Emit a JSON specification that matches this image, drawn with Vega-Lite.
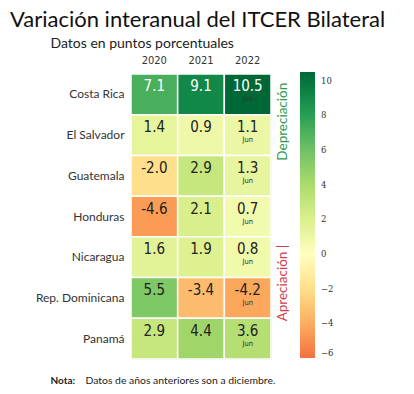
{
  "$schema": "https://vega.github.io/schema/vega-lite/v6.json",
  "width": 140,
  "height": 285,
  "autosize": "none",
  "padding": {"left": 131, "top": 74, "right": 143, "bottom": 35},
  "background": "white",
  "title": {
    "text": "Variación interanual del ITCER Bilateral",
    "anchor": "start",
    "frame": "group",
    "dx": -121,
    "font": "Lato",
    "fontSize": 22,
    "fontWeight": "normal",
    "color": "#111111"
  },
  "datasets": {
    "cells": [
      {"country": "Costa Rica", "year": "2020", "value": 7.1, "label": "7.1", "note": ""},
      {"country": "Costa Rica", "year": "2021", "value": 9.1, "label": "9.1", "note": ""},
      {"country": "Costa Rica", "year": "2022", "value": 10.5, "label": "10.5", "note": "Jun"},
      {"country": "El Salvador", "year": "2020", "value": 1.4, "label": "1.4", "note": ""},
      {"country": "El Salvador", "year": "2021", "value": 0.9, "label": "0.9", "note": ""},
      {"country": "El Salvador", "year": "2022", "value": 1.1, "label": "1.1", "note": "Jun"},
      {"country": "Guatemala", "year": "2020", "value": -2.0, "label": "-2.0", "note": ""},
      {"country": "Guatemala", "year": "2021", "value": 2.9, "label": "2.9", "note": ""},
      {"country": "Guatemala", "year": "2022", "value": 1.3, "label": "1.3", "note": "Jun"},
      {"country": "Honduras", "year": "2020", "value": -4.6, "label": "-4.6", "note": ""},
      {"country": "Honduras", "year": "2021", "value": 2.1, "label": "2.1", "note": ""},
      {"country": "Honduras", "year": "2022", "value": 0.7, "label": "0.7", "note": "Jun"},
      {"country": "Nicaragua", "year": "2020", "value": 1.6, "label": "1.6", "note": ""},
      {"country": "Nicaragua", "year": "2021", "value": 1.9, "label": "1.9", "note": ""},
      {"country": "Nicaragua", "year": "2022", "value": 0.8, "label": "0.8", "note": "Jun"},
      {"country": "Rep. Dominicana", "year": "2020", "value": 5.5, "label": "5.5", "note": ""},
      {"country": "Rep. Dominicana", "year": "2021", "value": -3.4, "label": "-3.4", "note": ""},
      {"country": "Rep. Dominicana", "year": "2022", "value": -4.2, "label": "-4.2", "note": "Jun"},
      {"country": "Panamá", "year": "2020", "value": 2.9, "label": "2.9", "note": ""},
      {"country": "Panamá", "year": "2021", "value": 4.4, "label": "4.4", "note": ""},
      {"country": "Panamá", "year": "2022", "value": 3.6, "label": "3.6", "note": "Jun"}
    ],
    "notes": [
      {"country": "El Salvador", "year": "2022", "label": "Depreciación", "kind": "dep"},
      {"country": "Rep. Dominicana", "year": "2022", "label": "Apreciación |", "kind": "apr"}
    ]
  },
  "resolve": {"axis": {"x": "independent"}},
  "layer": [
    {
      "data": {"name": "cells"},
      "mark": {"type": "rect", "stroke": "white", "strokeWidth": 1.5},
      "encoding": {
        "x": {
          "field": "year", "type": "ordinal", "sort": ["2020", "2021", "2022"],
          "axis": {
            "orient": "top",
            "title": "Datos en puntos porcentuales",
            "titleX": -81, "titleY": -27,
            "titleAlign": "left", "titleBaseline": "alphabetic", "titleAngle": 0,
            "titleFont": "Lato", "titleFontSize": 14, "titleFontWeight": "normal", "titleColor": "#222222",
            "labelAngle": 0, "labelFont": "DejaVu Sans Condensed, Roboto", "labelFontSize": 11, "labelColor": "#333333",
            "labelPadding": 9, "ticks": false, "domain": false
          }
        },
        "y": {
          "field": "country", "type": "nominal",
          "sort": ["Costa Rica", "El Salvador", "Guatemala", "Honduras", "Nicaragua", "Rep. Dominicana", "Panamá"],
          "axis": {
            "title": "Nota:",
            "titleAngle": 0, "titleX": -81, "titleY": 309,
            "titleAlign": "left", "titleBaseline": "alphabetic",
            "titleFont": "Lato", "titleFontSize": 10, "titleFontWeight": "bold", "titleColor": "#222222",
            "labelFont": "Lato", "labelFontSize": 12, "labelColor": "#333333",
            "labelPadding": 7, "ticks": false, "domain": false
          }
        },
        "color": {
          "field": "value", "type": "quantitative",
          "scale": {
            "domain": [-6, -4.2, -2.1, 0, 2.1, 4.2, 6.3, 8.4, 10.5],
            "range": ["#f2703f", "#fca85c", "#fedd88", "#ffffbf", "#d9ef8b", "#a6d96a", "#66bd63", "#1a9850", "#006837"],
            "interpolate": "rgb"
          },
          "legend": {
            "orient": "none", "legendX": 169, "legendY": -2,
            "direction": "vertical", "gradientLength": 286, "gradientThickness": 15,
            "title": null, "values": [-6, -4, -2, 0, 2, 4, 6, 8, 10],
            "labelFont": "DejaVu Serif", "labelFontSize": 8.5, "labelColor": "#333333",
            "labelOffset": 6, "labelOverlap": false, "gradientStrokeWidth": 0
          }
        }
      }
    },
    {
      "data": {"name": "cells"},
      "mark": {"type": "text", "font": "DejaVu Sans Condensed, Roboto", "fontSize": 15, "baseline": "alphabetic", "align": "center", "yOffset": -3},
      "encoding": {
        "x": {"field": "year", "type": "ordinal", "sort": ["2020", "2021", "2022"], "axis": null},
        "y": {"field": "country", "type": "nominal", "sort": ["Costa Rica", "El Salvador", "Guatemala", "Honduras", "Nicaragua", "Rep. Dominicana", "Panamá"]},
        "text": {"field": "label"},
        "color": {"condition": {"test": "datum.value > 6", "value": "white"}, "value": "#222222"}
      }
    },
    {
      "data": {"name": "cells"},
      "transform": [{"filter": "datum.note != ''"}],
      "mark": {"type": "text", "font": "DejaVu Sans Condensed, Roboto", "fontSize": 7.5, "baseline": "alphabetic", "align": "center", "yOffset": 7, "color": "#333333"},
      "encoding": {
        "x": {"field": "year", "type": "ordinal", "sort": ["2020", "2021", "2022"], "axis": null},
        "y": {"field": "country", "type": "nominal", "sort": ["Costa Rica", "El Salvador", "Guatemala", "Honduras", "Nicaragua", "Rep. Dominicana", "Panamá"]},
        "text": {"field": "note"}
      }
    },
    {
      "data": {"name": "notes"},
      "transform": [{"filter": "datum.kind == 'dep'"}],
      "mark": {"type": "text", "font": "Lato", "fontSize": 13.5, "angle": 270, "align": "center", "baseline": "middle", "xOffset": 12, "yOffset": 7, "color": "#2e9a48"},
      "encoding": {
        "x": {
          "field": "year", "type": "ordinal", "sort": ["2020", "2021", "2022"], "bandPosition": 1,
          "axis": {
            "orient": "bottom", "labels": false, "ticks": false, "domain": false, "grid": false,
            "title": "Datos de años anteriores son a diciembre.",
            "titleX": -46, "titleY": 24, "titleAlign": "left", "titleBaseline": "alphabetic", "titleAngle": 0,
            "titleFont": "Lato", "titleFontSize": 10.4, "titleFontWeight": "normal", "titleColor": "#222222"
          }
        },
        "y": {"field": "country", "type": "nominal", "sort": ["Costa Rica", "El Salvador", "Guatemala", "Honduras", "Nicaragua", "Rep. Dominicana", "Panamá"], "bandPosition": 0},
        "text": {"field": "label"}
      }
    },
    {
      "data": {"name": "notes"},
      "transform": [{"filter": "datum.kind == 'apr'"}],
      "mark": {"type": "text", "font": "Lato", "fontSize": 13.5, "angle": 270, "align": "center", "baseline": "middle", "xOffset": 12, "yOffset": 5.5, "color": "#d33c4a"},
      "encoding": {
        "x": {"field": "year", "type": "ordinal", "sort": ["2020", "2021", "2022"], "bandPosition": 1, "axis": null},
        "y": {"field": "country", "type": "nominal", "sort": ["Costa Rica", "El Salvador", "Guatemala", "Honduras", "Nicaragua", "Rep. Dominicana", "Panamá"], "bandPosition": 0},
        "text": {"field": "label"}
      }
    }
  ]
}
